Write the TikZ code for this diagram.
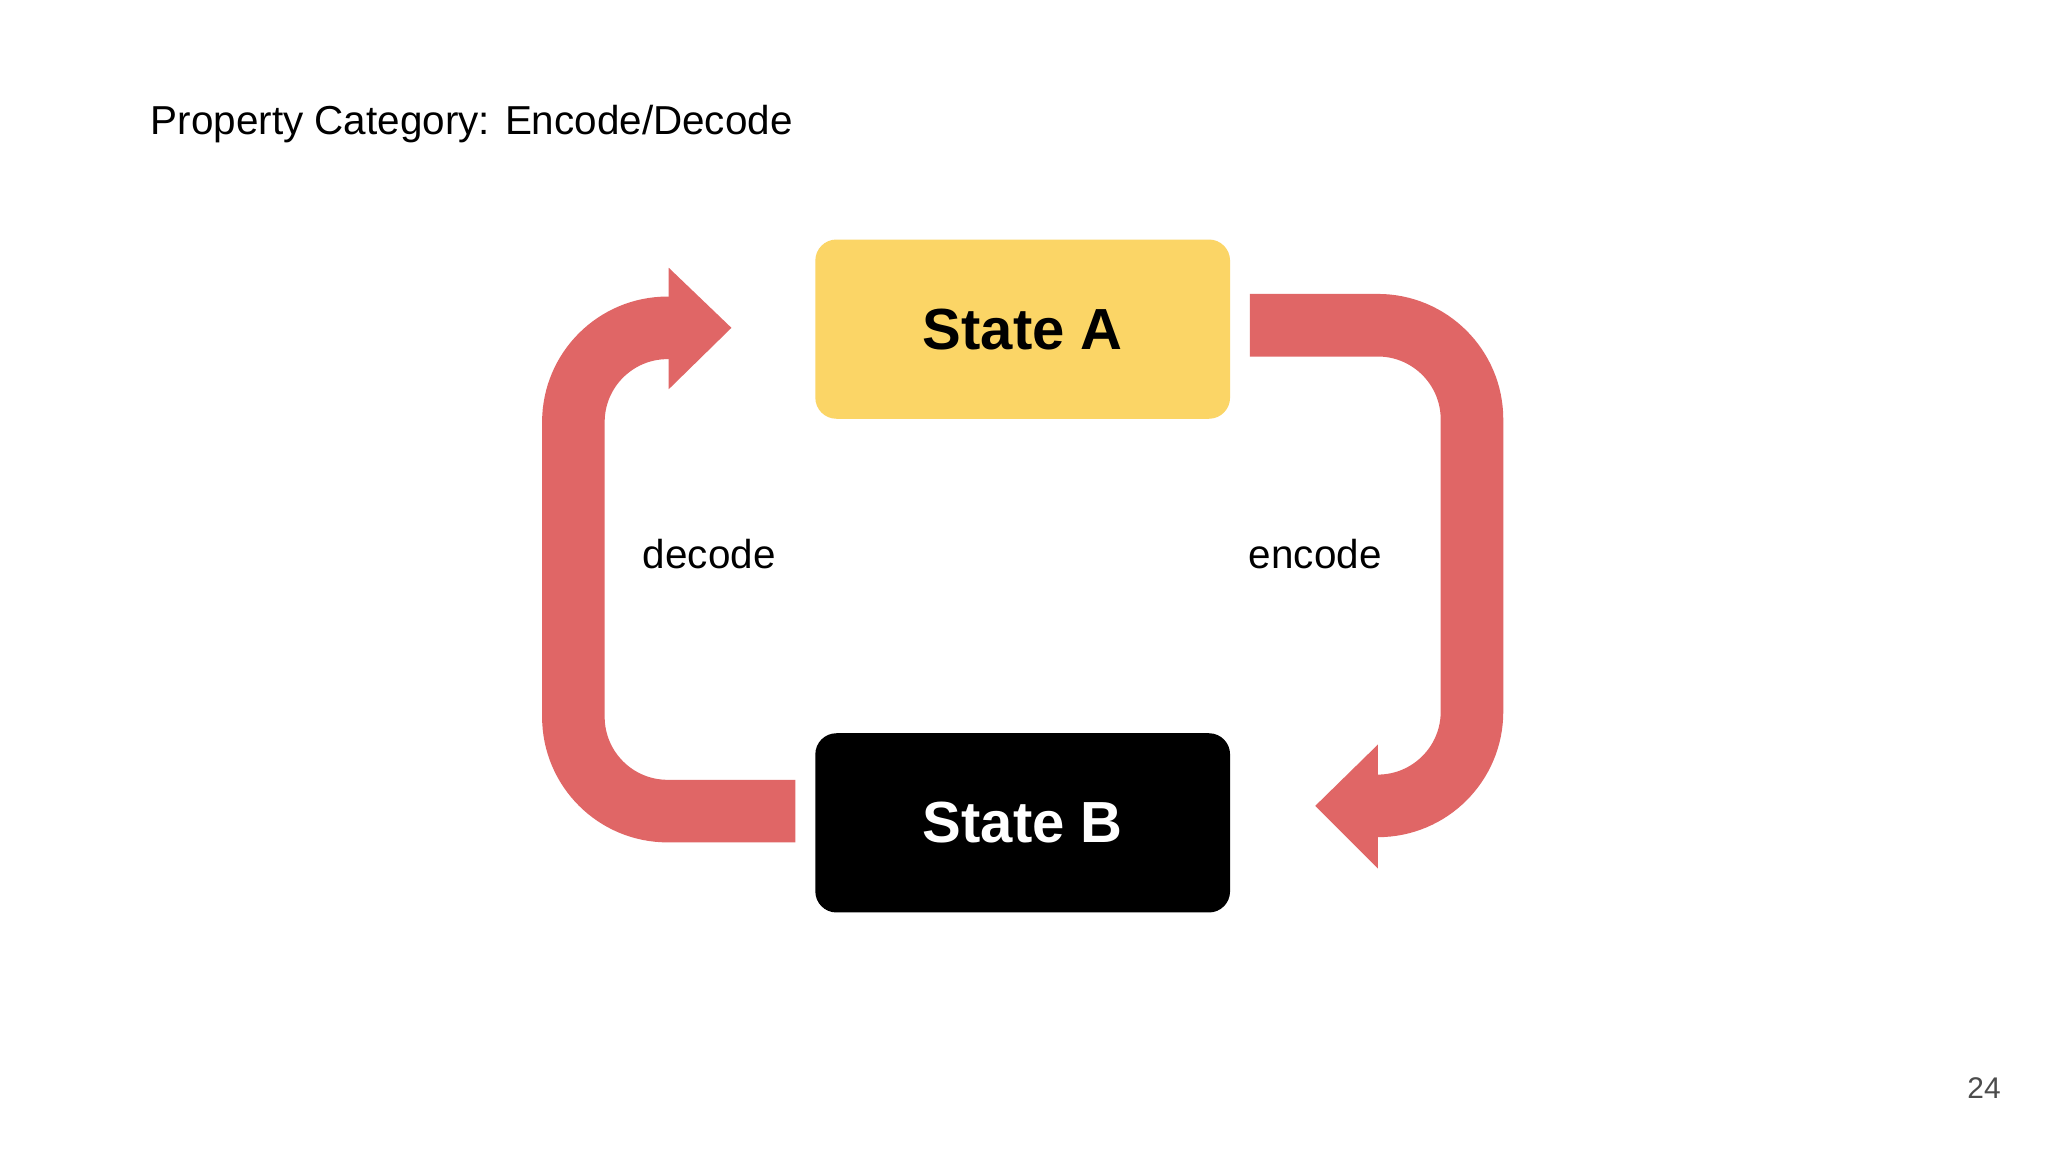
\documentclass[tikz,border=0pt]{standalone}
\usepackage{fontspec}
\setmainfont{Liberation Sans}
\definecolor{arrowred}{HTML}{E06666}
\definecolor{stateyellow}{HTML}{FBD566}
\begin{document}
\begin{tikzpicture}[x=0.013061cm,y=-0.013061cm,
  statebox/.style={rounded corners=6pt,minimum width=118pt,minimum height=51pt,inner sep=0pt,font=\fontsize{16.5}{18}\selectfont\bfseries},
  band/.style={draw=arrowred,line width=17.8pt,rounded corners=26.8pt},
  head/.style={fill=arrowred},
  lbl/.style={font=\fontsize{11.5}{13}\selectfont}]
\useasboundingbox[fill=white] (0,0) rectangle (1568,882);
\node[anchor=west,font=\fontsize{11.5}{13}\selectfont] (title) at (106,95) {Property Category: Encode/Decode};
\node[statebox,fill=stateyellow] (A) at (783,252) {State A};
\node[statebox,fill=black,text=white] (B) at (783,630) {State B};
% encode arrow
\coordinate (e1) at (957,249);
\coordinate (e2) at (1127,249);
\coordinate (e3) at (1127,617);
\coordinate (e4) at (1056,617);
\draw[band] (e1) -- (e2) -- (e3) -- (e4);
\fill[head] (1055,570) -- (1007,617) -- (1055,665) -- cycle;
% decode arrow
\coordinate (d1) at (609,621);
\coordinate (d2) at (439,621);
\coordinate (d3) at (439,251);
\coordinate (d4) at (513,251);
\draw[band] (d1) -- (d2) -- (d3) -- (d4);
\fill[head] (512,205) -- (560,251) -- (512,298) -- cycle;
\node[lbl] (dec) at (543,424) {decode};
\node[lbl] (enc) at (1007,424) {encode};
\node[font=\fontsize{8.5}{10}\selectfont,text=black!70] (pg) at (1519,833) {24};
\end{tikzpicture}
\end{document}
